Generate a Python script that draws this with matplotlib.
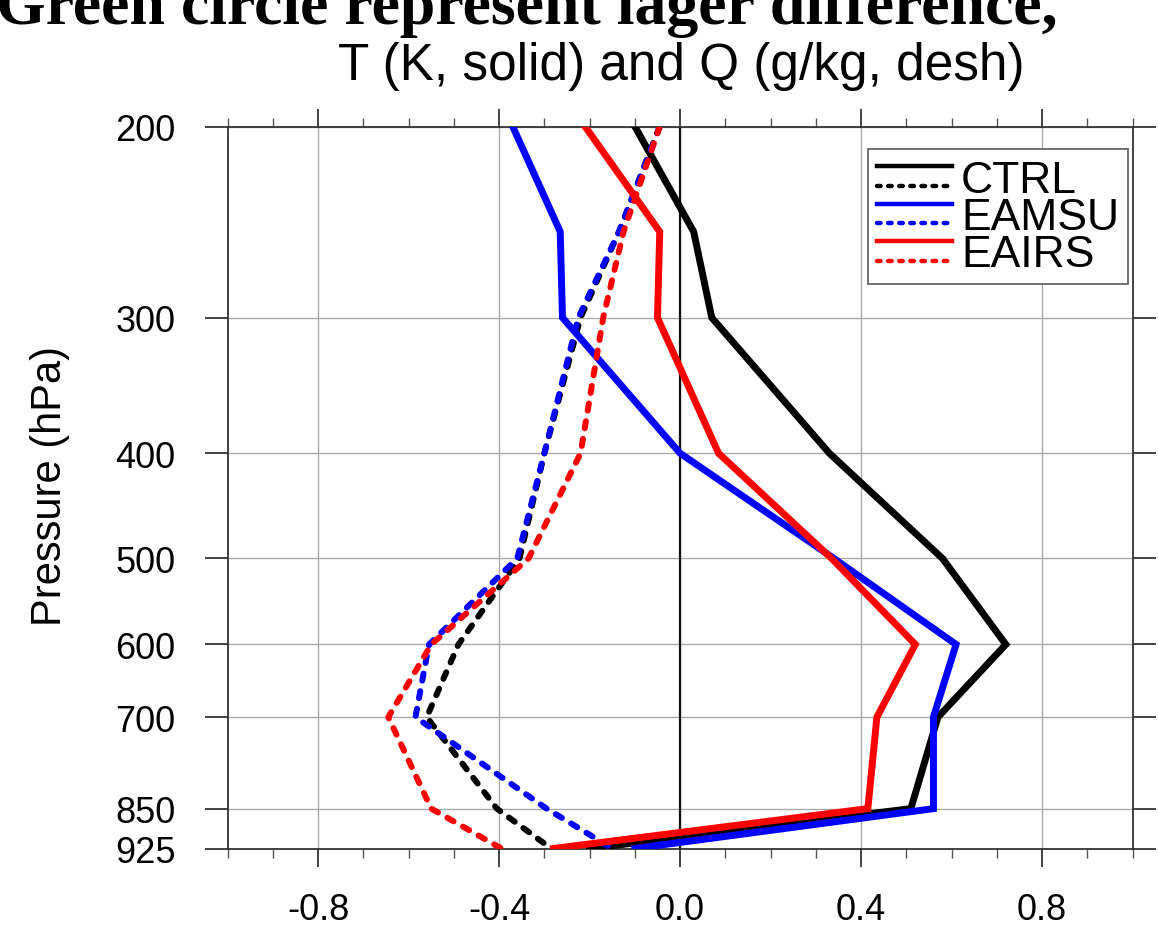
import matplotlib
matplotlib.use("Agg")
import matplotlib.pyplot as plt
from matplotlib.ticker import MultipleLocator, FormatStrFormatter, NullLocator
from matplotlib.legend_handler import HandlerBase
from matplotlib.lines import Line2D

plt.rcParams['font.family'] = ['Liberation Sans', 'DejaVu Sans']
plt.rcParams['axes.unicode_minus'] = False

# ---------------- data ----------------
levels = [200, 250, 300, 400, 500, 600, 700, 850, 925]
ytick_levels = [200, 300, 400, 500, 600, 700, 850, 925]

# Temperature differences (K, solid)
T_ctrl = [-0.10, 0.03, 0.07, 0.33, 0.58, 0.72, 0.57, 0.51, -0.20]
T_eamsu = [-0.37, -0.265, -0.26, 0.00, 0.34, 0.61, 0.56, 0.56, -0.10]
T_eairs = [-0.21, -0.045, -0.05, 0.085, 0.335, 0.52, 0.435, 0.415, -0.28]

# Specific humidity differences (g/kg, dashed)
Q_ctrl = [-0.045, -0.135, -0.22, -0.30, -0.355, -0.49, -0.56, -0.405, -0.285]
Q_eamsu = [-0.045, -0.135, -0.225, -0.30, -0.36, -0.555, -0.585, -0.295, -0.15]
Q_eairs = [-0.045, -0.125, -0.17, -0.22, -0.335, -0.55, -0.645, -0.55, -0.395]

series_names = ['CTRL', 'EAMSU', 'EAIRS']
series_colors = ['#000000', '#0000ff', '#ff0000']

# ---------------- figure ----------------
W, H = 1158, 937
fig = plt.figure(figsize=(W / 100, H / 100), dpi=100)
ax = fig.add_axes([227.7 / W, 1 - 849.5 / H, (1132.5 - 227.7) / W, (849.5 - 127.5) / H])

handles = []
for name, col, T, Q in zip(series_names, series_colors,
                           [T_ctrl, T_eamsu, T_eairs], [Q_ctrl, Q_eamsu, Q_eairs]):
    ls, = ax.plot(T, levels, color=col, lw=5.0, solid_joinstyle='miter', zorder=3)
    ld, = ax.plot(Q, levels, color=col, lw=4.3, dash_capstyle='round',
                  dashes=(1.2, 1.8), zorder=3)
    handles.append((ls, ld))

ax.set_yscale('log')
ax.set_ylim(925, 200)
ax.set_xlim(-1.0, 1.0)

ax.set_yticks(ytick_levels, [str(v) for v in ytick_levels])
ax.yaxis.set_minor_locator(NullLocator())
ax.xaxis.set_major_locator(MultipleLocator(0.4))
ax.xaxis.set_minor_locator(MultipleLocator(0.1))
ax.xaxis.set_major_formatter(FormatStrFormatter('%.1f'))

ax.tick_params(axis='y', which='major', direction='out', length=16.5, width=1.2,
               left=True, right=True, labelsize=26, pad=21, color='#222222')
ax.tick_params(axis='x', which='major', direction='out', length=13, width=1.2,
               top=True, bottom=True, labelsize=26, pad=18, color='#222222')
ax.tick_params(axis='x', which='minor', direction='out', length=6.5, width=1.0,
               top=True, bottom=True, color='#555555')

ax.grid(True, which='major', axis='both', color='#aaaaaa', lw=1.0, zorder=1)
ax.axvline(0.0, color='#111111', lw=1.6, zorder=2)
for sp in ax.spines.values():
    sp.set_color('#333333')
    sp.set_linewidth(1.3)


class HandlerSolidDash(HandlerBase):
    def create_artists(self, legend, orig_handle, xdescent, ydescent,
                       width, height, fontsize, trans):
        solid, dashed = orig_handle
        yc = height / 2.0 - ydescent
        d = 7.0
        l1 = Line2D([-xdescent, -xdescent + width], [yc + d, yc + d],
                    color=solid.get_color(), lw=3.2, transform=trans)
        l2 = Line2D([-xdescent, -xdescent + width], [yc - d, yc - d],
                    color=dashed.get_color(), lw=3.2, dash_capstyle='round',
                    dashes=(0.8, 1.7), transform=trans)
        return [l1, l2]


leg = ax.legend(handles, series_names, handler_map={tuple: HandlerSolidDash()},
                loc='upper right', bbox_to_anchor=(0.995, 0.969), borderaxespad=0,
                fontsize=32, handlelength=1.7, handleheight=0.9, handletextpad=0.2,
                labelspacing=-0.12, borderpad=0.2, fancybox=False, framealpha=1,
                edgecolor='#666666')
leg.get_frame().set_linewidth(1.3)
leg.set_zorder(5)

fig.text(681 / W, 1 - 80 / H, 'T (K, solid) and Q (g/kg, desh)', fontsize=37,
         ha='center', va='baseline')
fig.text(50 / W, 1 - 486 / H, 'Pressure (hPa)', fontsize=30, rotation=90,
         ha='center', va='center')
fig.text(-4 / W, 1 - 24 / H, 'Green circle represent lager difference,',
         family=['Liberation Serif', 'DejaVu Serif'], fontweight='bold', fontsize=46,
         ha='left', va='baseline')

fig.savefig('out.png', dpi=100)
